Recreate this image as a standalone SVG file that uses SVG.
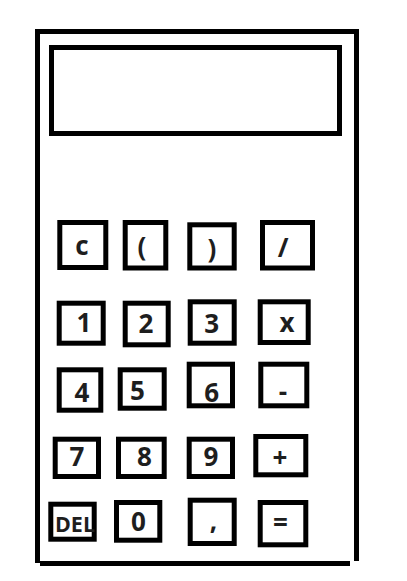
<svg xmlns="http://www.w3.org/2000/svg" width="407" height="581" viewBox="0 0 407 581">
<style>
.frame{fill:none;stroke:#000;stroke-width:5}
.key{fill:#fff;stroke:#000;stroke-width:5}
.lbl{font-family:"Open Sans","Noto Sans","DejaVu Sans",sans-serif;font-weight:bold;font-size:26px;fill:#1e1e1e;text-anchor:middle}
</style>
<rect width="407" height="581" fill="#fff"/>
<g id="body">
<path class="frame" d="M37.5 29 V563 M35 31.5 H359 M356.5 29 V561 M40 563.5 H350"/>
</g>
<g id="display"><rect class="frame" x="51.5" y="47.5" width="288" height="86"/></g>
<g id="key-c"><rect class="key" x="59.8" y="222.5" width="46" height="45"/><text class="lbl" x="82" y="255">c</text></g>
<g id="key-lparen"><rect class="key" x="125.2" y="222.5" width="40.6" height="45.5"/><text class="lbl" x="142" y="256">(</text></g>
<g id="key-rparen"><rect class="key" x="189.8" y="224.8" width="44.4" height="43.2"/><text class="lbl" x="212" y="258">)</text></g>
<g id="key-div"><rect class="key" x="262.5" y="222.5" width="50" height="45.5"/><text class="lbl" x="283" y="257">/</text></g>
<g id="key-1"><rect class="key" x="59.2" y="303.2" width="44" height="40"/><text class="lbl" x="84" y="332">1</text></g>
<g id="key-2"><rect class="key" x="125.2" y="303.2" width="43" height="41.6"/><text class="lbl" x="146" y="333">2</text></g>
<g id="key-3"><rect class="key" x="190.2" y="301.8" width="44" height="41.4"/><text class="lbl" x="211.7" y="333">3</text></g>
<g id="key-mul"><rect class="key" x="260.2" y="301.8" width="48" height="40.7"/><text class="lbl" x="287" y="332">x</text></g>
<g id="key-4"><rect class="key" x="59.2" y="369.8" width="41.6" height="40.4"/><text class="lbl" x="82" y="401.5">4</text></g>
<g id="key-5"><rect class="key" x="120.2" y="369.8" width="44" height="38.4"/><text class="lbl" x="137.5" y="400">5</text></g>
<g id="key-6"><rect class="key" x="189.2" y="364.2" width="43.3" height="41.6"/><text class="lbl" x="211.7" y="401.5">6</text></g>
<g id="key-minus"><rect class="key" x="260.8" y="364.2" width="46" height="41.6"/><text class="lbl" x="283" y="401">-</text></g>
<g id="key-7"><rect class="key" x="55.2" y="439.2" width="43.3" height="37.3"/><text class="lbl" x="77" y="465.7">7</text></g>
<g id="key-8"><rect class="key" x="118.5" y="439.2" width="45.7" height="37.3"/><text class="lbl" x="144.5" y="465.7">8</text></g>
<g id="key-9"><rect class="key" x="189.2" y="439.2" width="43.3" height="37.3"/><text class="lbl" x="211" y="465.7">9</text></g>
<g id="key-plus"><rect class="key" x="255.8" y="436.5" width="50" height="38.3"/><text class="lbl" x="280" y="467">+</text></g>
<g id="key-del"><rect class="key" x="50.8" y="504.2" width="43.4" height="35"/><text class="lbl" x="75" y="532" style="font-size:21px" textLength="40" lengthAdjust="spacingAndGlyphs">DEL</text></g>
<g id="key-0"><rect class="key" x="116.5" y="502.5" width="43.3" height="37.7"/><text class="lbl" x="138.5" y="531">0</text></g>
<g id="key-comma"><rect class="key" x="190.2" y="500.2" width="44" height="43.3"/><text class="lbl" x="213.5" y="530">,</text></g>
<g id="key-eq"><rect class="key" x="260.2" y="502.5" width="45.6" height="42.3"/><text class="lbl" x="280.5" y="532">=</text></g>
<g id="connectors"></g>
</svg>
